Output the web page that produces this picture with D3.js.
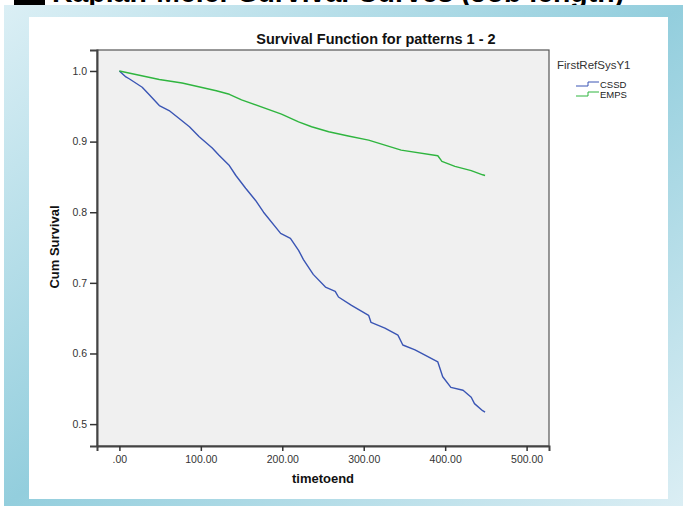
<!DOCTYPE html>
<html><head><meta charset="utf-8">
<script src="https://cdn.jsdelivr.net/npm/d3@7"></script>
<style>html,body{margin:0;padding:0;background:#fff;overflow:hidden}svg{display:block}</style>
</head><body>
<script>
const slideTitle = "Kaplan-Meier Survival Curves (Job length)";
const chartTitle = "Survival Function for patterns 1 - 2";
const xTitle = "timetoend";
const yTitle = "Cum Survival";
const legendTitle = "FirstRefSysY1";
const seriesNames = ["CSSD", "EMPS"];
const seriesColors = ["#3a55b4", "#2fb53f"];
const xTicks = [0, 100, 200, 300, 400, 500];
const xTickLabels = [".00", "100.00", "200.00", "300.00", "400.00", "500.00"];
const yTicks = [0.5, 0.6, 0.7, 0.8, 0.9, 1.0];
const yTickLabels = ["0.5", "0.6", "0.7", "0.8", "0.9", "1.0"];

const cssdTime = [0, 8, 12, 28, 37, 49, 61, 73, 86, 98, 114, 122, 135, 143, 155, 167, 177, 198, 210, 220, 226, 238, 253, 265, 269, 285, 306, 309, 326, 342, 348, 363, 391, 397, 407, 422, 432, 436, 446, 449];
const cssdSurv = [1.0, 0.9915, 0.989, 0.977, 0.966, 0.951, 0.944, 0.933, 0.921, 0.907, 0.891, 0.881, 0.866, 0.852, 0.834, 0.817, 0.800, 0.770, 0.763, 0.746, 0.733, 0.712, 0.694, 0.688, 0.680, 0.668, 0.654, 0.644, 0.636, 0.626, 0.612, 0.605, 0.588, 0.567, 0.552, 0.548, 0.538, 0.529, 0.519, 0.517];
const empsTime = [0, 49, 77, 119, 135, 150, 199, 220, 236, 257, 281, 306, 346, 391, 396, 412, 432, 446, 449];
const empsSurv = [1.0, 0.988, 0.983, 0.972, 0.967, 0.959, 0.939, 0.928, 0.921, 0.914, 0.908, 0.902, 0.888, 0.880, 0.872, 0.865, 0.859, 0.853, 0.852];

const W = 683, H = 506;
const svg = d3.select("body").append("svg").attr("width", W).attr("height", H);
const FONT = "'Liberation Sans', Arial, sans-serif";

// slide title, cut off at the top
svg.append("rect").attr("x", 14).attr("y", -20).attr("width", 31).attr("height", 25).attr("fill", "#000");
svg.append("text").attr("x", 52).attr("y", 2).attr("font-family", FONT).attr("font-weight", "bold")
  .attr("font-size", 27).attr("textLength", 572).attr("lengthAdjust", "spacingAndGlyphs").attr("fill", "#000").text(slideTitle);

// slide frame
const defs = svg.append("defs");
const g = defs.append("linearGradient").attr("id", "frameGrad").attr("x1", 0).attr("y1", 0).attr("x2", 1).attr("y2", 1);
g.append("stop").attr("offset", 0).attr("stop-color", "#dbeff5");
g.append("stop").attr("offset", 0.5).attr("stop-color", "#93cedd");
g.append("stop").attr("offset", 1).attr("stop-color", "#dbeef4");
svg.append("rect").attr("x", 4).attr("y", 5).attr("width", W - 4).attr("height", H - 5).attr("fill", "url(#frameGrad)");
svg.append("rect").attr("x", 29).attr("y", 17).attr("width", 639).attr("height", 482).attr("fill", "#fff");

// plot
const L = 97, R = 549, T = 50, B = 446;
const x = d3.scaleLinear().domain([-27.5, 527.5]).range([L, R]);
const y = d3.scaleLinear().domain([0.469, 1.0297]).range([B, T]);

svg.append("rect").attr("x", L).attr("y", T).attr("width", R - L).attr("height", B - T)
  .attr("fill", "#f0f0f0").attr("stroke", "#555").attr("stroke-width", 1.2);

const yAxis = d3.axisLeft(y).tickValues(yTicks).tickFormat((d, i) => yTickLabels[i]).tickSize(7).tickPadding(3);
const ya = svg.append("g").attr("transform", `translate(${L},0)`).call(yAxis);
const xAxis = d3.axisBottom(x).tickValues(xTicks).tickFormat((d, i) => xTickLabels[i]).tickSize(5).tickPadding(5);
const xa = svg.append("g").attr("transform", `translate(0,${B})`).call(xAxis);
[ya, xa].forEach(a => {
  a.select(".domain").attr("stroke", "#444").attr("stroke-width", 2);
  a.selectAll(".tick line").attr("stroke", "#333").attr("stroke-width", 1.5);
  a.selectAll(".tick text").attr("font-family", FONT).attr("font-size", 10.5).attr("fill", "#333");
});

const line = d3.line().x(d => x(d[0])).y(d => y(d[1])).curve(d3.curveLinear);
const series = [d3.zip(cssdTime, cssdSurv), d3.zip(empsTime, empsSurv)];
series.forEach((s, i) => {
  svg.append("path").datum(s).attr("d", line).attr("fill", "none")
    .attr("stroke", seriesColors[i]).attr("stroke-width", 1.4).attr("stroke-linejoin", "round");
});

// titles
svg.append("text").attr("x", 376).attr("y", 44).attr("text-anchor", "middle").attr("font-family", FONT)
  .attr("font-weight", "bold").attr("font-size", 14.5).attr("fill", "#111").text(chartTitle);
svg.append("text").attr("x", 323).attr("y", 483).attr("text-anchor", "middle").attr("font-family", FONT)
  .attr("font-weight", "bold").attr("font-size", 13).attr("fill", "#111").text(xTitle);
svg.append("text").attr("transform", "translate(59,247) rotate(-90)").attr("text-anchor", "middle").attr("font-family", FONT)
  .attr("font-weight", "bold").attr("font-size", 13).attr("fill", "#111").text(yTitle);

// legend
svg.append("text").attr("x", 557).attr("y", 69).attr("font-family", FONT).attr("font-size", 11.5).attr("fill", "#333").text(legendTitle);
seriesNames.forEach((n, i) => {
  const ly = 86 + i * 10;
  svg.append("path").attr("d", `M576,${ly} H588 V${ly - 4} H599`).attr("fill", "none")
    .attr("stroke", seriesColors[i]).attr("stroke-width", 1);
  svg.append("text").attr("x", 600).attr("y", ly + 1.5).attr("font-family", FONT).attr("font-size", 9.5)
    .attr("fill", "#222").text(n);
});
</script>
</body></html>
